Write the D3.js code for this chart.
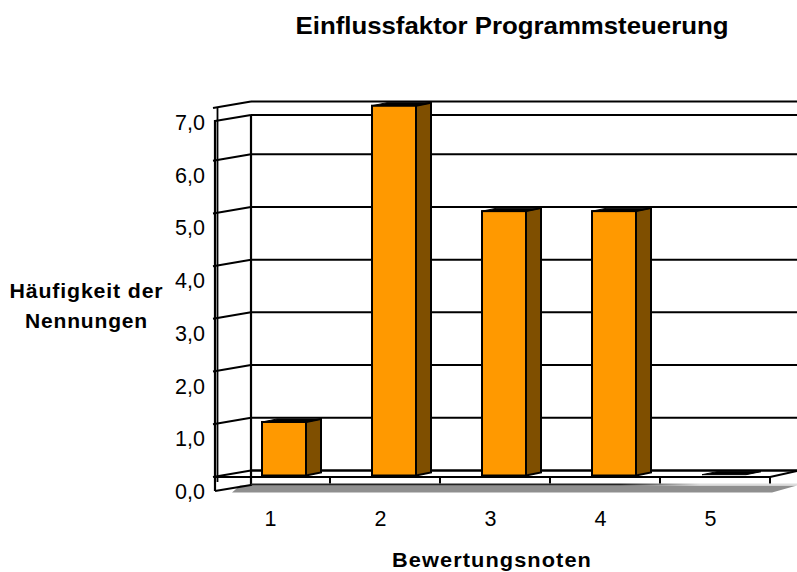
<!DOCTYPE html>
<html><head><meta charset="utf-8">
<script src="https://cdn.jsdelivr.net/npm/d3@7"></script>
<style>html,body{margin:0;padding:0;background:#fff}svg{display:block}text{font-family:"Liberation Sans",Arial,sans-serif;fill:#000}</style>
</head><body><svg id="c" width="797" height="572"></svg>
<script>
const categories=["1","2","3","4","5"];
const values=[1,7,5,5,0];
const yTicks=[0,1,2,3,4,5,6,7];
const titleText="Einflussfaktor Programmsteuerung";
const xTitle="Bewertungsnoten";
const yTitle=["Häufigkeit der","Nennungen"];
const yTitleLen=[154,123];
const svg=d3.select("#c");
const fmt=v=>v.toFixed(1).replace(".",",");
const y=d3.scaleLinear().domain([0,7]).range([476.5,107.5]);
const x=d3.scaleBand().domain(categories).range([220,770]).paddingInner(0).paddingOuter(0);
const depthY=-6;
const barW=44, barDX=15, barDY=-3;
const barOff=42;
const line=(x1,y1,x2,y2,w=2,c="#000")=>svg.append("line").attr("x1",x1).attr("y1",y1).attr("x2",x2).attr("y2",y2).attr("stroke",c).attr("stroke-width",w);
const R=797;
const grad=svg.append("defs").append("linearGradient").attr("id","fade").attr("gradientUnits","userSpaceOnUse").attr("x1",620).attr("y1",0).attr("x2",700).attr("y2",0);
grad.append("stop").attr("offset",0).attr("stop-color","#222");
grad.append("stop").attr("offset",1).attr("stop-color","#ddd");
// floor shadow
svg.append("path").attr("d",`M240,485.5H${R}L772,492.5H232Z`).attr("fill","#8f8f8f");
// back wall gridlines
yTicks.forEach(v=>{
  const yy=y(v);
  line(213,yy+0.5,251,yy+depthY,2);
  line(251,yy+depthY,R,yy+depthY,v===0?2.4:2);
});
// frame
line(215,121,251,115,2.2); line(251,115,R,115,2.2);
line(217.5,107,217.5,482,1.8);
line(215,120,215,491,2.2);
line(251,115,251,486,2.2);
// floor front edges
line(215,491,251,485,2.2); line(251,484.5,R,484.5,2.2,"url(#fade)");
line(214,477,770,477,2.2); line(770,477,R,471,2);
categories.forEach(c=>{const tx=x(c)+x.step();line(tx,477,tx,483.5,2);});
// bars
const g=svg.selectAll("g.bar").data(values).join("g").attr("class","bar");
g.each(function(v,i){
  const s=d3.select(this);
  const bx=x(categories[i])+barOff, top=y(v)-1.8, bot=475.5;
  if(v>0){
    s.append("path").attr("d",`M${bx+barW},${top}L${bx+barW+barDX},${top+barDY}V${bot+barDY}L${bx+barW},${bot}Z`).attr("fill","#7f4f00").attr("stroke","#000").attr("stroke-width",2);
    s.append("rect").attr("x",bx).attr("y",top).attr("width",barW).attr("height",bot-top).attr("fill","#ff9900").attr("stroke","#000").attr("stroke-width",2);
  }
  s.append("path").attr("d",`M${bx},${top}L${bx+barDX},${top+barDY}H${bx+barW+barDX}L${bx+barW},${top}Z`).attr("fill","#000").attr("stroke","#000").attr("stroke-width",1);
});
// tick labels
svg.selectAll("text.yl").data(yTicks).join("text").attr("class","yl").attr("x",205).attr("y",d=>y(d)+22.5).attr("text-anchor","end").attr("font-size",21.5).text(fmt);
svg.selectAll("text.xl").data(categories).join("text").attr("class","xl").attr("x",d=>x(d)+50.5).attr("y",526).attr("text-anchor","middle").attr("font-size",21.5).text(d=>d);
svg.append("text").attr("x",512).attr("y",34).attr("text-anchor","middle").attr("font-size",24).attr("font-weight","bold").attr("textLength",433).attr("lengthAdjust","spacingAndGlyphs").text(titleText);
svg.append("text").attr("x",492).attr("y",567).attr("text-anchor","middle").attr("font-size",20).attr("font-weight","bold").attr("letter-spacing",1).attr("textLength",200).attr("lengthAdjust","spacingAndGlyphs").text(xTitle);
yTitle.forEach((t,i)=>svg.append("text").attr("x",86.5).attr("y",298+i*30).attr("text-anchor","middle").attr("font-size",20).attr("font-weight","bold").attr("letter-spacing",0.8).attr("textLength",yTitleLen[i]).attr("lengthAdjust","spacingAndGlyphs").text(t));
</script></body></html>
